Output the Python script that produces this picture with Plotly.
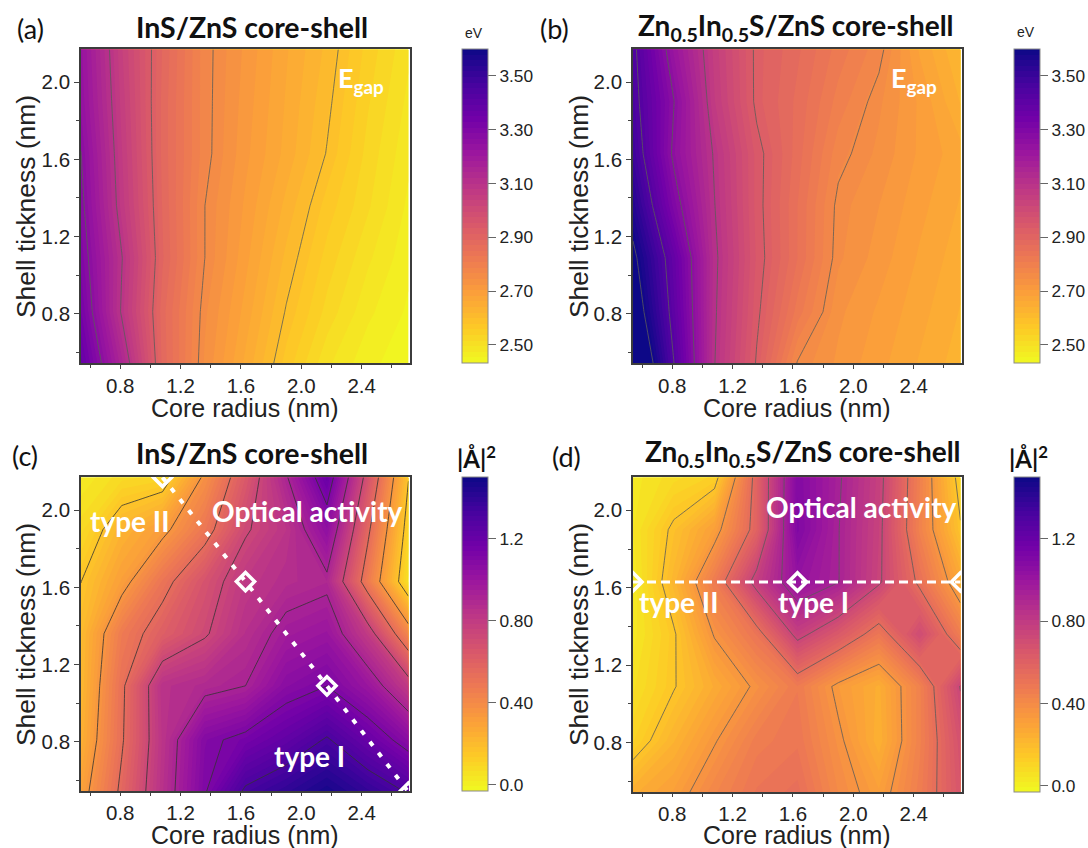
import plotly.graph_objects as go

core_radius = [0.54, 0.81, 1.08, 1.36, 1.63, 1.90, 2.17, 2.44, 2.71]
shell_thickness = [0.54, 0.81, 1.09, 1.36, 1.63, 1.90, 2.17]

egap_ins = [
    [3.38, 3.15, 2.885, 2.742, 2.657, 2.57, 2.50, 2.46, 2.44],
    [3.33, 3.09, 2.88, 2.75, 2.675, 2.594, 2.53, 2.48, 2.45],
    [3.30, 3.10, 2.895, 2.764, 2.69, 2.615, 2.55, 2.50, 2.46],
    [3.28, 3.07, 2.89, 2.764, 2.70, 2.635, 2.57, 2.52, 2.47],
    [3.265, 3.06, 2.885, 2.775, 2.71, 2.655, 2.595, 2.53, 2.48],
    [3.24, 3.05, 2.885, 2.775, 2.715, 2.66, 2.605, 2.54, 2.49],
    [3.23, 3.04, 2.89, 2.775, 2.72, 2.665, 2.615, 2.55, 2.50],
]
egap_znins = [
    [3.76, 3.433, 3.099, 2.925, 2.76, 2.72, 2.69, 2.66, 2.63],
    [3.67, 3.40, 3.105, 2.94, 2.82, 2.73, 2.70, 2.67, 2.64],
    [3.62, 3.38, 3.11, 2.95, 2.85, 2.75, 2.715, 2.68, 2.65],
    [3.55, 3.30, 3.099, 2.945, 2.85, 2.755, 2.725, 2.69, 2.66],
    [3.49, 3.25, 3.09, 2.945, 2.86, 2.775, 2.74, 2.70, 2.67],
    [3.46, 3.266, 3.06, 2.92, 2.865, 2.80, 2.75, 2.70, 2.64],
    [3.45, 3.22, 3.05, 2.92, 2.875, 2.82, 2.775, 2.68, 2.62],
]
optical_ins = [
    [0.30, 0.57, 0.85, 1.108, 1.33, 1.40, 1.47, 1.39, 1.30],
    [0.24, 0.53, 0.835, 1.09, 1.15, 1.224, 1.32, 1.20, 1.065],
    [0.21, 0.52, 0.846, 0.888, 0.926, 1.066, 1.117, 1.00, 0.80],
    [0.20, 0.47, 0.61, 0.72, 0.857, 0.966, 1.003, 0.80, 0.42],
    [0.16, 0.31, 0.50, 0.67, 0.81, 0.87, 0.90, 0.475, 0.06],
    [0.08, 0.23, 0.32, 0.49, 0.72, 0.83, 1.043, 0.57, 0.11],
    [0.02, 0.08, 0.10, 0.375, 0.64, 0.915, 1.20, 0.68, 0.165],
]
optical_znins = [
    [0.25, 0.31, 0.42, 0.50, 0.53, 0.40, 0.31, 0.46, 0.66],
    [0.11, 0.23, 0.345, 0.46, 0.49, 0.37, 0.24, 0.44, 0.68],
    [0.06, 0.155, 0.26, 0.37, 0.47, 0.33, 0.25, 0.44, 0.74],
    [0.03, 0.15, 0.36, 0.50, 0.77, 0.64, 0.49, 0.71, 0.46],
    [0.02, 0.22, 0.47, 0.78, 1.02, 0.93, 0.75, 0.52, 0.28],
    [0.04, 0.18, 0.31, 0.59, 1.10, 0.93, 0.76, 0.44, 0.17],
    [0.03, 0.08, 0.12, 0.59, 1.09, 0.94, 0.77, 0.45, 0.12],
]

egap_ticks = [2.5, 2.7, 2.9, 3.1, 3.3, 3.5]
egap_labels = ["2.50", "2.70", "2.90", "3.10", "3.30", "3.50"]
optical_ticks = [0.0, 0.4, 0.8, 1.2]
optical_labels = ["0.0", "0.40", "0.80", "1.2"]

type_line_c_x = [1.08, 1.63, 2.17, 2.71]
type_line_c_y = [2.17, 1.63, 1.09, 0.54]
type_line_d_x = [0.54, 1.63, 2.71]
type_line_d_y = [1.63, 1.63, 1.63]

W, H = 1088, 848
SANS = "Liberation Sans"
TITLE = "Lato"

panels = [
    dict(z=egap_ins, box=(81, 409.5, 49, 363), bar=(462, 488), zr=(2.433, 3.60), start=2.597, ticks=egap_ticks, labels=egap_labels, lc="#5a5a5a", xt=4),
    dict(z=egap_znins, box=(633, 961.5, 49, 363), bar=(1014, 1040), zr=(2.433, 3.60), start=2.597, ticks=egap_ticks, labels=egap_labels, lc="#5a5a5a", xt=4),
    dict(z=optical_ins, box=(81, 409.5, 477, 791), bar=(462, 488), zr=(-0.03, 1.50), start=0.161, ticks=optical_ticks, labels=optical_labels, lc="#333333", xt=3),
    dict(z=optical_znins, box=(633, 961.5, 477, 792), bar=(1014, 1040), zr=(-0.03, 1.50), start=0.161, ticks=optical_ticks, labels=optical_labels, lc="#5a5a5a", xt=3),
]

fig = go.Figure()
layout_axes = {}
for i, p in enumerate(panels):
    n = "" if i == 0 else str(i + 1)
    x0, x1, y0, y1 = p["box"]
    zmin, zmax = p["zr"]
    step = (zmax - zmin) / 7 if i < 2 else (zmax - zmin) / 8
    fig.add_trace(go.Contour(
        x=core_radius, y=shell_thickness, z=p["z"], xaxis="x" + n, yaxis="y" + n,
        colorscale="Plasma", reversescale=True, zmin=zmin, zmax=zmax,
        autocontour=False,
        contours=dict(coloring="fill", start=zmin, end=zmax, size=step / 8, showlines=False),
        line=dict(width=0, smoothing=0),
        hoverinfo="skip",
        colorbar=dict(
            x=p["bar"][0] / W, xanchor="left", xpad=0, ypad=0, thickness=p["bar"][1] - p["bar"][0],
            thicknessmode="pixels", lenmode="fraction", len=(y1 - y0) / H,
            y=1 - y1 / H, yanchor="bottom",
            tickmode="array", tickvals=p["ticks"], ticktext=p["labels"],
            ticks="outside", ticklen=8, tickwidth=1, tickcolor="#666666",
            tickfont=dict(family=SANS, size=17.3, color="#222222"),
            outlinecolor="#8a8a8a", outlinewidth=1,
        ),
    ))
    fig.add_trace(go.Contour(
        x=core_radius, y=shell_thickness, z=p["z"], xaxis="x" + n, yaxis="y" + n,
        showscale=False, autocontour=False,
        contours=dict(coloring="none", start=p["start"], end=zmax + 0.001, size=step),
        line=dict(color=p["lc"], width=0.8, smoothing=0),
        hoverinfo="skip",
    ))
    common = dict(
        showline=True, linecolor="#3c3c3c", linewidth=1.6, mirror=True, ticks="outside",
        ticklen=5, tickwidth=1, tickcolor="#444444", showgrid=False, zeroline=False,
        tickmode="linear", tick0=0.8, dtick=0.4, tickformat=".1f",
        tickfont=dict(family=SANS, size=20.5, color="#222222"),
        minor=dict(ticks="outside", ticklen=3, tickwidth=1, tickcolor="#444444", tick0=0.6, dtick=0.4, showgrid=False),
    )
    layout_axes["xaxis" + n] = dict(common, domain=[x0 / W, x1 / W], range=[0.54, 2.717], anchor="y" + n, ticklen=p["xt"])
    layout_axes["yaxis" + n] = dict(common, domain=[1 - y1 / H, 1 - y0 / H], range=[0.545, 2.172], anchor="x" + n)

marker = dict(symbol="diamond", size=14, color="rgba(0,0,0,0)", line=dict(color="white", width=3.5))
fig.add_trace(go.Scatter(x=type_line_c_x, y=type_line_c_y, xaxis="x3", yaxis="y3", mode="lines+markers",
                         line=dict(color="white", width=4, dash="5px 9px"), marker=marker, hoverinfo="skip", showlegend=False))
fig.add_trace(go.Scatter(x=type_line_d_x, y=type_line_d_y, xaxis="x4", yaxis="y4", mode="lines+markers",
                         line=dict(color="white", width=3, dash="9px 5px"), marker=marker, hoverinfo="skip", showlegend=False))

def note(text, x, y, size, color="#111111", bold=True, family=TITLE, angle=0):
    t = f"<b>{text}</b>" if bold else text
    return dict(text=t, x=x / W, y=1 - y / H, xref="paper", yref="paper", xanchor="center", yanchor="middle",
                showarrow=False, textangle=angle, font=dict(family=family, size=size, color=color))

def axis_note(text, x, y, size, angle=0):
    return note(text, x, y, size, color="#222222", bold=False, family=SANS, angle=angle)

ZN = "Zn<sub>0.5</sub>In<sub>0.5</sub>S/ZnS core-shell"
annotations = [
    note("(a)", 30, 28, 27, bold=False), note("(b)", 554, 28, 27, bold=False),
    note("(c)", 25, 455, 27, bold=False), note("(d)", 566, 456, 27, bold=False),
    note("InS/ZnS core-shell", 252, 27, 28.5), note(ZN, 796, 27, 28),
    note("InS/ZnS core-shell", 252, 453, 28.5), note(ZN, 803, 453, 28),
    axis_note("Core radius (nm)", 245, 408, 25), axis_note("Core radius (nm)", 797, 408, 25),
    axis_note("Core radius (nm)", 245, 835, 25), axis_note("Core radius (nm)", 797, 835, 25),
    axis_note("Shell tickness (nm)", 26, 207, 26.4, -90), axis_note("Shell tickness (nm)", 579, 207, 26.4, -90),
    axis_note("Shell tickness (nm)", 26, 635, 26.4, -90), axis_note("Shell tickness (nm)", 579, 635, 26.4, -90),
    axis_note("eV", 474, 33, 14), axis_note("eV", 1026, 32, 14),
    note("|Å|<sup>2</sup>", 476, 457, 24), note("|Å|<sup>2</sup>", 1028, 457, 24),
    note("E<sub>gap</sub>", 361, 80, 27, color="white"), note("E<sub>gap</sub>", 914, 80, 27, color="white"),
    note("type II", 129, 521, 28, color="white"), note("Optical activity", 307, 511, 28, color="white"),
    note("type I", 309, 756, 28, color="white"), note("Optical activity", 861, 507, 28, color="white"),
    note("type II", 678, 602, 28, color="white"), note("type I", 813, 602, 28, color="white"),
]

fig.update_layout(
    width=W, height=H, margin=dict(l=0, r=0, t=0, b=0, autoexpand=False),
    paper_bgcolor="white", plot_bgcolor="white", showlegend=False,
    annotations=annotations, **layout_axes,
)
fig.write_html("out.html", config=dict(displayModeBar=False), post_script="document.body.style.margin='0';")
